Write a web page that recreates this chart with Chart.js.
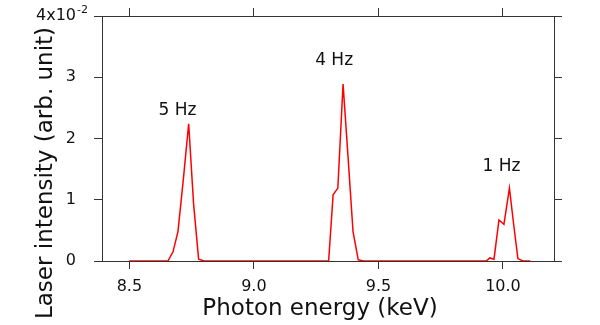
<!DOCTYPE html>
<html lang="en">
<head>
  <meta charset="UTF-8">
  <title>Laser intensity vs photon energy</title>
  <script src="https://cdn.jsdelivr.net/npm/chart.js"></script>
  <style>
    html, body { margin: 0; padding: 0; background: #fff; }
  </style>
</head>
<body>
  <canvas id="spectrum" width="600" height="325"></canvas>

  <script>
    // photon energy (keV) and laser intensity (arb. unit) of the scan
    const energy = [
      8.50, 8.655, 8.675, 8.695, 8.717, 8.738, 8.758, 8.778, 8.80,
      9.300, 9.318, 9.337, 9.358, 9.378, 9.398, 9.419, 9.44,
      9.933, 9.947, 9.964, 9.984, 10.004, 10.026, 10.043, 10.060, 10.080, 10.11
    ];
    const intensity = [
      0, 0, 0.0015, 0.0048, 0.0135, 0.0224, 0.0092, 0.0003, 0,
      0, 0.0108, 0.0119, 0.0289, 0.0170, 0.0048, 0.0002, 0,
      0, 0.0005, 0.0003, 0.0067, 0.0060, 0.0119, 0.0060, 0.0004, 0, 0
    ];
    const xTicks = [8.5, 9.0, 9.5, 10.0];
    const yTicks = [0, 0.01, 0.02, 0.03, 0.04];
    const peakNames = ['5 Hz', '4 Hz', '1 Hz'];

    // where each peak name sits, in data units
    const peakSpots = [
      { x: 8.693, y: 0.0246 },
      { x: 9.322, y: 0.0328 },
      { x: 9.994, y: 0.0154 }
    ];

    const FONT = '"DejaVu Sans", sans-serif';
    const AXIS = '#333';

    const annotate = {
      id: 'annotate',
      afterDraw(chart) {
        const { ctx, scales: { x, y } } = chart;
        ctx.save();
        ctx.fillStyle = '#111';
        ctx.textAlign = 'center';
        ctx.textBaseline = 'middle';

        // peak names
        ctx.font = '17px ' + FONT;
        peakNames.forEach((name, i) => {
          ctx.fillText(name, x.getPixelForValue(peakSpots[i].x), y.getPixelForValue(peakSpots[i].y));
        });

        // exponent on the top y label
        const topY = y.getPixelForValue(yTicks[yTicks.length - 1]);
        const right = x.left - 8 - 18;
        ctx.font = '11px ' + FONT;
        ctx.textAlign = 'left';
        ctx.fillText('-2', right + 1, topY - 6);

        // axis titles
        ctx.textAlign = 'center';
        ctx.font = '23px ' + FONT;
        ctx.fillText('Photon energy (keV)', 320, 309);
        ctx.translate(46, 173);
        ctx.rotate(-Math.PI / 2);
        ctx.fillText('Laser intensity (arb. unit)', 0, 0);
        ctx.restore();
      }
    };

    const frameGrid = { drawOnChartArea: false, tickLength: 8, color: AXIS, lineWidth: 1 };
    const frameBorder = { color: AXIS, width: 1 };

    // fixed box sizes so the plot frame lands where it should
    const fixHeight = h => s => { s.height = h; s.paddingLeft = 0; s.paddingRight = 0; };
    const fixWidth = w => s => { s.width = w; s.paddingTop = 0; s.paddingBottom = 0; };

    new Chart(document.getElementById('spectrum'), {
      type: 'line',
      data: {
        datasets: [{
          data: energy.map((e, i) => ({ x: e, y: intensity[i] })),
          borderColor: '#ff0000',
          borderWidth: 1.5,
          pointRadius: 0,
          tension: 0,
          fill: false
        }]
      },
      options: {
        responsive: false,
        animation: false,
        devicePixelRatio: 1,
        layout: { padding: 0 },
        plugins: { legend: { display: false }, tooltip: { enabled: false } },
        scales: {
          x: {
            type: 'linear', position: 'bottom', min: 8.39, max: 10.205,
            afterBuildTicks: s => { s.ticks = xTicks.map(v => ({ value: v })); },
            afterFit: fixHeight(64),
            ticks: {
              callback: v => v.toFixed(1), color: '#111', padding: 8,
              font: { family: FONT, size: 16 }, maxRotation: 0, autoSkip: false
            },
            grid: frameGrid, border: frameBorder
          },
          xTop: {
            type: 'linear', position: 'top', min: 8.39, max: 10.205,
            afterBuildTicks: s => { s.ticks = xTicks.map(v => ({ value: v })); },
            afterFit: fixHeight(16),
            ticks: { display: false },
            grid: frameGrid, border: frameBorder
          },
          y: {
            type: 'linear', position: 'left', min: 0, max: 0.04,
            afterBuildTicks: s => { s.ticks = yTicks.map(v => ({ value: v })); },
            afterFit: fixWidth(102),
            ticks: {
              callback: v => v === 0.04 ? '4x10' : String(Math.round(v * 100)),
              color: '#111', padding: 18, font: { family: FONT, size: 16 }
            },
            grid: frameGrid, border: frameBorder
          },
          yRight: {
            type: 'linear', position: 'right', min: 0, max: 0.04,
            afterBuildTicks: s => { s.ticks = yTicks.map(v => ({ value: v })); },
            afterFit: fixWidth(46),
            ticks: { display: false },
            grid: frameGrid, border: frameBorder
          }
        }
      },
      plugins: [annotate]
    });
  </script>
</body>
</html>
